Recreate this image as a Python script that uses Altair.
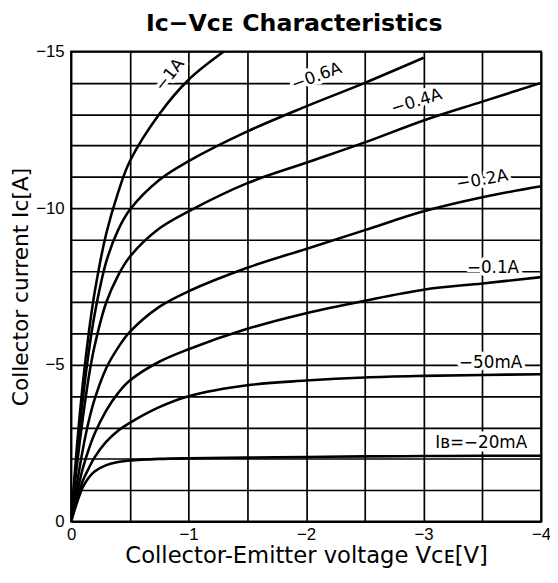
import altair as alt
import pandas as pd

# ---- data ----
vce = [0, -0.05, -0.1, -0.15, -0.2, -0.3, -0.4, -0.5, -0.75, -1, -1.5, -2, -2.5, -3, -3.5, -4]
ib_20mA = [0, -0.6, -1.1, -1.4, -1.6, -1.8, -1.9, -1.95, -2.0, -2.02, -2.04, -2.06, -2.08, -2.09, -2.1, -2.1]
ib_50mA = [0, -0.7, -1.3, -1.7, -2.05, -2.55, -2.9, -3.15, -3.65, -4.0, -4.35, -4.5, -4.6, -4.65, -4.68, -4.7]
ib_01A = [0, -0.9, -1.7, -2.3, -2.8, -3.55, -4.1, -4.5, -5.1, -5.5, -6.15, -6.65, -7.05, -7.4, -7.6, -7.8]
ib_02A = [0, -1.2, -2.3, -3.2, -3.9, -4.9, -5.55, -6.05, -6.85, -7.35, -8.1, -8.7, -9.3, -9.9, -10.35, -10.7]
ib_04A = [0, -1.8, -3.3, -4.6, -5.6, -7.0, -7.85, -8.45, -9.35, -9.9, -10.8, -11.45, -12.1, -12.8, -13.4, -14.0]
vce_06A = [0, -0.05, -0.1, -0.15, -0.2, -0.3, -0.4, -0.5, -0.75, -1, -1.5, -2, -2.5, -3]
ib_06A = [0, -2.1, -3.9, -5.4, -6.6, -8.3, -9.3, -9.95, -10.9, -11.5, -12.45, -13.25, -14.0, -14.8]
vce_1A = [0, -0.05, -0.1, -0.15, -0.2, -0.3, -0.4, -0.5, -0.75, -1.0, -1.3]
ib_1A = [0, -2.4, -4.4, -6.0, -7.3, -9.2, -10.5, -11.5, -13.0, -14.1, -15.0]

label_text = ["\u22121A", "\u22120.6A", "\u22120.4A", "\u22120.2A", "\u22120.1A", "\u221250mA", "I\u0299=\u221220mA"]
label_v = [-0.84, -2.09, -2.94, -3.5, -3.59, -3.57, -3.49]
label_i = [-14.25, -14.2, -13.4, -10.9, -8.08, -5.06, -2.52]
label_angle = [308, 340, 343, 350, 0, 0, 0]

x_ticks = [0, -0.5, -1, -1.5, -2, -2.5, -3, -3.5, -4]
y_ticks = [0, -1, -2, -3, -4, -5, -6, -7, -8, -9, -10, -11, -12, -13, -14, -15]

curves = [
    ("20mA", vce, ib_20mA),
    ("50mA", vce, ib_50mA),
    ("0.1A", vce, ib_01A),
    ("0.2A", vce, ib_02A),
    ("0.4A", vce, ib_04A),
    ("0.6A", vce_06A, ib_06A),
    ("1A", vce_1A, ib_1A),
]
rows = []
for name, xs, ys in curves:
    for k, (a, b) in enumerate(zip(xs, ys)):
        rows.append({"series": name, "idx": k, "V": a, "I": b})
df = pd.DataFrame(rows)
lab = pd.DataFrame({"t": label_text, "V": label_v, "I": label_i, "a": label_angle})

FONT = "Liberation Sans"
WIDE = "DejaVu Sans"

xs_ = alt.Scale(domain=[0, -4], nice=False, zero=False)
ys_ = alt.Scale(domain=[0, -15], nice=False, zero=False)

xaxis = alt.Axis(values=x_ticks, grid=True, gridColor="black", gridWidth=1.7, gridOpacity=1,
                 ticks=False, domain=False, labelFontSize=17, labelFont=FONT, labelColor="black",
                 labelPadding=5, labelFlush=False, labelOverlap=False,
                 labelExpr="datum.value % 1 == 0 ? format(datum.value, 'd') : ''",
                 title="Collector-Emitter voltage V\u1d04\u1d07[V]", titleFont=WIDE,
                 titleFontSize=23, titleFontWeight="normal", titleColor="black", titlePadding=3)
yaxis = alt.Axis(values=y_ticks, grid=True, gridColor="black", gridWidth=1.7, gridOpacity=1,
                 ticks=False, domain=False, labelFontSize=17, labelFont=FONT, labelColor="black",
                 labelPadding=7, labelFlush=False, labelOverlap=False,
                 labelExpr="datum.value % 5 == 0 ? format(datum.value, 'd') : ''",
                 title="Collector current  I\u1d04[A]", titleFont=WIDE,
                 titleFontSize=22, titleFontWeight="normal", titleColor="black", titlePadding=3)

lines = alt.Chart(df).mark_line(color="black", strokeWidth=2.6, interpolate="catmull-rom", clip=True).encode(
    detail="series:N",
    order="idx:Q",
)

halo = alt.Chart(lab).mark_text(font=WIDE, fontSize=17, stroke="white", strokeWidth=7,
                                fill="white", strokeJoin="round").encode(
    text="t:N", angle=alt.Angle("a:Q", scale=None))
text = alt.Chart(lab).mark_text(font=WIDE, fontSize=17, color="black").encode(
    text="t:N", angle=alt.Angle("a:Q", scale=None))

chart = alt.layer(lines, halo, text).encode(
    x=alt.X("V:Q", scale=xs_, axis=xaxis),
    y=alt.Y("I:Q", scale=ys_, axis=yaxis),
).properties(
    width=477, height=477,
    autosize="none",
    padding={"left": 64, "top": 40, "right": 9, "bottom": 46},
    title=alt.TitleParams("I\u1d04\u2212V\u1d04\u1d07 Characteristics", font=WIDE, fontSize=24,
                          fontWeight="bold", color="black", anchor="middle", frame="group",
                          dx=-12, offset=7),
).configure(background="white", view=alt.ViewConfig(stroke="black", strokeWidth=2))

chart.save("out.html", embed_options={"renderer": "svg", "actions": False})
